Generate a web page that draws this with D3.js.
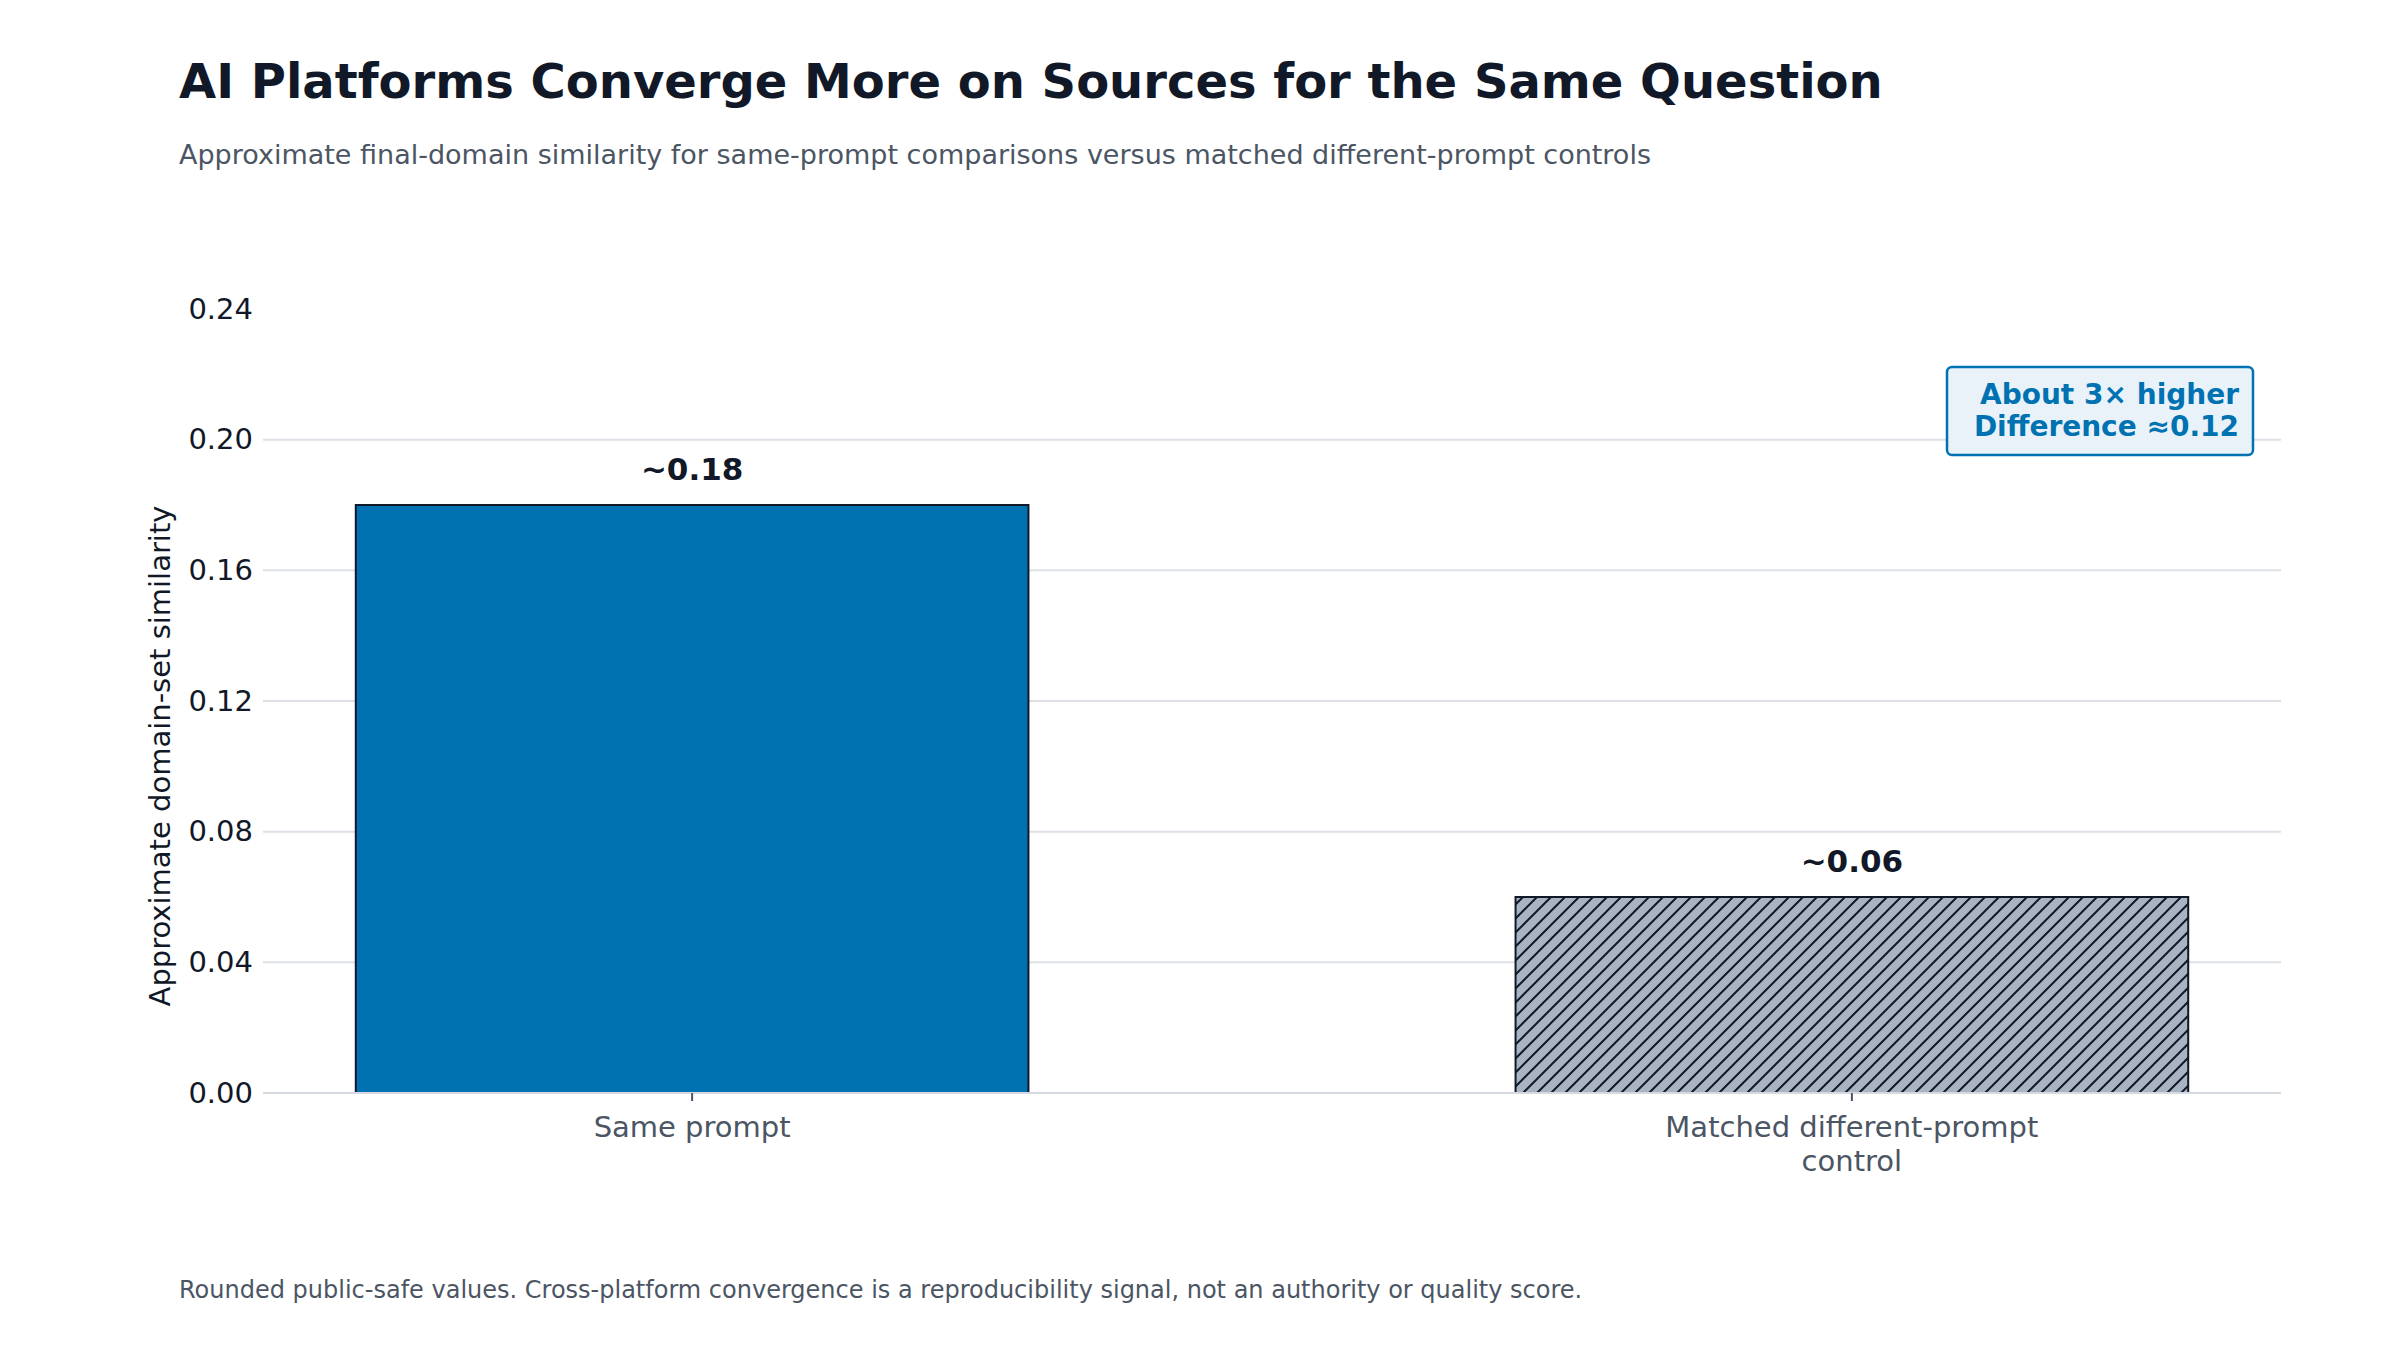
<!DOCTYPE html>
<html>
<head>
<meta charset="utf-8">
<script src="https://cdn.jsdelivr.net/npm/d3@7"></script>
<style>
  body { margin: 0; background: #fff; }
  text { font-family: "DejaVu Sans", sans-serif; }
</style>
</head>
<body>
<div id="chart"></div>
<script>
// Data
const categories = ["Same prompt", "Matched different-prompt\ncontrol"];
const values = [0.18, 0.06];
const valueLabels = ["~0.18", "~0.06"];
const yTicks = [0, 0.04, 0.08, 0.12, 0.16, 0.20, 0.24];

const W = 2400, H = 1350;
const margin = {top: 309, right: 119, bottom: 257, left: 263};
const width = W - margin.left - margin.right;
const height = H - margin.top - margin.bottom;

const svg = d3.select("#chart").append("svg")
    .attr("width", W).attr("height", H);

// Hatch pattern
const defs = svg.append("defs");
const pat = defs.append("pattern")
    .attr("id", "hatch")
    .attr("patternUnits", "userSpaceOnUse")
    .attr("width", 14).attr("height", 14);
pat.append("rect").attr("width", 14).attr("height", 14).attr("fill", "#a9b4c2");
pat.append("path")
    .attr("d", "M-1,1 l2,-2 M0,14 l14,-14 M13,15 l2,-2")
    .attr("stroke", "#111827").attr("stroke-width", 2);

// Title and subtitle
svg.append("text").attr("x", 179).attr("y", 98)
    .style("font-size", "48px").style("font-weight", "bold").attr("fill", "#111827")
    .text("AI Platforms Converge More on Sources for the Same Question");
svg.append("text").attr("x", 179).attr("y", 164)
    .style("font-size", "27px").attr("fill", "#4b5563")
    .text("Approximate final-domain similarity for same-prompt comparisons versus matched different-prompt controls");

const g = svg.append("g").attr("transform", `translate(${margin.left},${margin.top})`);

const x = d3.scaleBand().domain(categories).range([0, width])
    .paddingInner(0.42).paddingOuter(0.08);
const y = d3.scaleLinear().domain([0, 0.24]).range([height, 0]);

// Gridlines
g.selectAll(".grid").data(yTicks.filter(d => d > 0 && d < 0.24)).enter()
    .append("line")
    .attr("x1", 0).attr("x2", width)
    .attr("y1", d => y(d)).attr("y2", d => y(d))
    .attr("stroke", "#dde1e7").attr("stroke-width", 2);

// Y axis
const yAxis = g.append("g")
    .call(d3.axisLeft(y).tickValues(yTicks).tickFormat(d3.format(".2f")).tickSize(0).tickPadding(10));
yAxis.select(".domain").remove();
yAxis.selectAll("text").style("font-size", "29px").attr("fill", "#111827")
    .style("font-family", "DejaVu Sans");

svg.append("text")
    .attr("transform", `translate(170,${margin.top + height / 2 + 55}) rotate(-90)`)
    .attr("text-anchor", "middle")
    .style("font-size", "29px").attr("fill", "#111827")
    .text("Approximate domain-set similarity");

// Bars
g.selectAll(".bar").data(categories).enter()
    .append("rect")
    .attr("x", d => x(d))
    .attr("y", (d, i) => y(values[i]))
    .attr("width", x.bandwidth())
    .attr("height", (d, i) => height - y(values[i]))
    .attr("fill", (d, i) => i === 0 ? "#0072b2" : "url(#hatch)")
    .attr("stroke", "#111827").attr("stroke-width", 2);

// Baseline
g.append("line").attr("x1", 0).attr("x2", width)
    .attr("y1", height).attr("y2", height)
    .attr("stroke", "#d5d9e0").attr("stroke-width", 2);

// Value labels
g.selectAll(".val").data(categories).enter()
    .append("text")
    .attr("x", d => x(d) + x.bandwidth() / 2)
    .attr("y", (d, i) => y(values[i]) - 25)
    .attr("text-anchor", "middle")
    .style("font-size", "31px").style("font-weight", "bold").attr("fill", "#111827")
    .text((d, i) => valueLabels[i]);

// X axis ticks and labels
categories.forEach(c => {
    const cx = x(c) + x.bandwidth() / 2;
    g.append("line").attr("x1", cx).attr("x2", cx)
        .attr("y1", height).attr("y2", height + 8)
        .attr("stroke", "#4b5563").attr("stroke-width", 2);
    const t = g.append("text").attr("x", cx).attr("y", height + 44)
        .attr("text-anchor", "middle")
        .style("font-size", "29px").attr("fill", "#4b5563");
    c.split("\n").forEach((line, i) => {
        t.append("tspan").attr("x", cx).attr("dy", i === 0 ? 0 : 34).text(line);
    });
});

// Annotation box
const ann = svg.append("g");
ann.append("rect").attr("x", 1947).attr("y", 367).attr("width", 306).attr("height", 88)
    .attr("rx", 5).attr("fill", "#e9f2f8").attr("stroke", "#0072b2").attr("stroke-width", 2.5);
["About 3× higher", "Difference ≈0.12"].forEach((s, i) => {
    ann.append("text").attr("x", 2239).attr("y", 404 + i * 32)
        .attr("text-anchor", "end")
        .style("font-size", "28px").style("font-weight", "bold").attr("fill", "#0072b2")
        .text(s);
});

// Footer
svg.append("text").attr("x", 179).attr("y", 1298)
    .style("font-size", "24px").attr("fill", "#4b5563")
    .text("Rounded public-safe values. Cross-platform convergence is a reproducibility signal, not an authority or quality score.");
</script>
</body>
</html>
